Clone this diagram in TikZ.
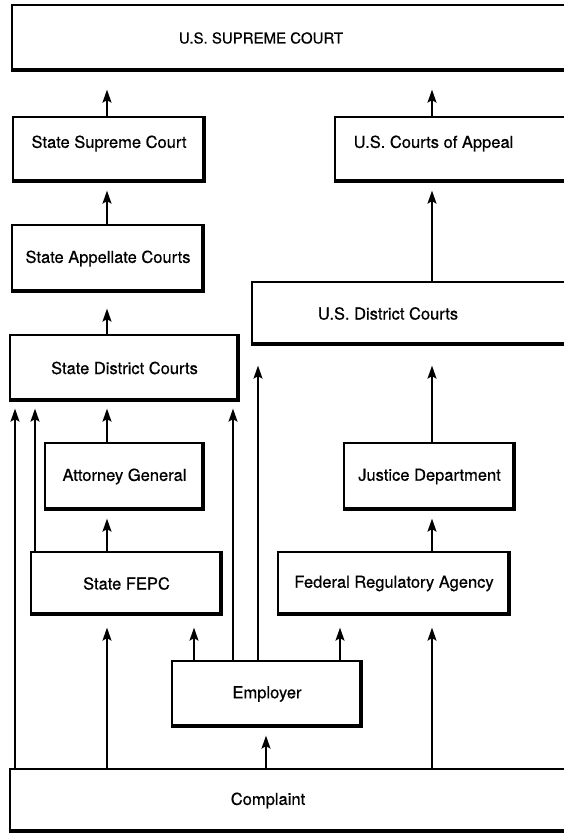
\documentclass[tikz,border=0pt]{standalone}
\usepackage{fontspec}
\setmainfont{TeX Gyre Heros}[FakeBold=0.6]
\usetikzlibrary{arrows.meta,calc}
\tikzset{
  box/.style={draw, line width=1.3pt, inner sep=0pt, align=center,
    font=\fontsize{16.5}{18}\selectfont,
    path picture={\draw[line width=6pt]
      (path picture bounding box.south west) -- (path picture bounding box.south east)
      -- (path picture bounding box.north east);}},
  arr/.style={line width=1.5pt, -{Stealth[length=13pt,width=9pt,inset=2.5pt]}},
}
\newcommand{\mkbox}[6]{% name, x1, x2, y1, y2, text
  \node[box, minimum width={(#3-#2)*1pt}, minimum height={(#5-#4)*1pt}] (#1) at ({(#2+#3)/2},{(#4+#5)/2}) {#6};}
\begin{document}
\begin{tikzpicture}[x=1pt,y=-1pt]
\useasboundingbox (0,0) rectangle (564,833);
\clip (0,0) rectangle (564,833);
\fill[white] (0,0) rectangle (564,833);
\mkbox{supreme}{12}{590}{5}{71}{\hspace*{-80pt}\fontsize{15}{18}\selectfont U.S. SUPREME COURT}
\mkbox{ssc}{13}{205}{117}{182}{\raisebox{6pt}[\height][\depth]{State Supreme Court}}
\mkbox{usca}{335}{590}{117}{182}{\hspace*{-58pt}\raisebox{6pt}[\height][\depth]{U.S. Courts of Appeal}}
\mkbox{sac}{12}{204}{225}{292}{State Appellate Courts}
\mkbox{sdc}{10}{239}{335}{401}{State District Courts}
\mkbox{usdc}{252}{590}{282}{345}{\hspace*{-66pt}U.S. District Courts}
\mkbox{ag}{45}{204}{443}{510}{Attorney General}
\mkbox{jd}{344}{515}{443}{510}{Justice Department}
\mkbox{fepc}{31}{222}{552}{615}{State FEPC}
\mkbox{fra}{278}{510}{552}{615}{Federal Regulatory Agency}
\mkbox{emp}{172}{362}{661}{727}{Employer}
\mkbox{comp}{10}{590}{769}{832}{\hspace*{-64pt}Complaint}
% x positions
\coordinate (xa) at (15,0);
\coordinate (xb) at (35,0);
\coordinate (xc) at (107,0);
\coordinate (xd) at (194,0);
\coordinate (xe) at (233,0);
\coordinate (xf) at (258,0);
\coordinate (xg) at (266,0);
\coordinate (xh) at (340,0);
\coordinate (xi) at (432,0);
% connectors
\draw[arr, shorten >=18pt] (ssc.north -| xc) -- (supreme.south -| xc);
\draw[arr, shorten >=18pt] (usca.north -| xi) -- (supreme.south -| xi);
\draw[arr, shorten >=8pt] (sac.north -| xc) -- (ssc.south -| xc);
\draw[arr, shorten >=16pt] (sdc.north -| xc) -- (sac.south -| xc);
\draw[arr, shorten >=8pt] (usdc.north -| xi) -- (usca.south -| xi);
\draw[arr, shorten >=20pt] (emp.north -| xf) -- (usdc.south -| xf);
\draw[arr, shorten >=20pt] (jd.north -| xi) -- (usdc.south -| xi);
\draw[arr, shorten >=7pt] (comp.north -| xa) -- (sdc.south -| xa);
\draw[arr, shorten >=7pt] (fepc.north -| xb) -- (sdc.south -| xb);
\draw[arr, shorten >=7pt] (ag.north -| xc) -- (sdc.south -| xc);
\draw[arr, shorten >=7pt] (emp.north -| xe) -- (sdc.south -| xe);
\draw[arr, shorten >=8pt] (fepc.north -| xc) -- (ag.south -| xc);
\draw[arr, shorten >=8pt] (fra.north -| xi) -- (jd.south -| xi);
\draw[arr, shorten >=12pt] (comp.north -| xc) -- (fepc.south -| xc);
\draw[arr, shorten >=12pt] (emp.north -| xd) -- (fepc.south -| xd);
\draw[arr, shorten >=12pt] (emp.north -| xh) -- (fra.south -| xh);
\draw[arr, shorten >=12pt] (comp.north -| xi) -- (fra.south -| xi);
\draw[arr, shorten >=8pt] (comp.north -| xg) -- (emp.south -| xg);
\end{tikzpicture}
\end{document}
